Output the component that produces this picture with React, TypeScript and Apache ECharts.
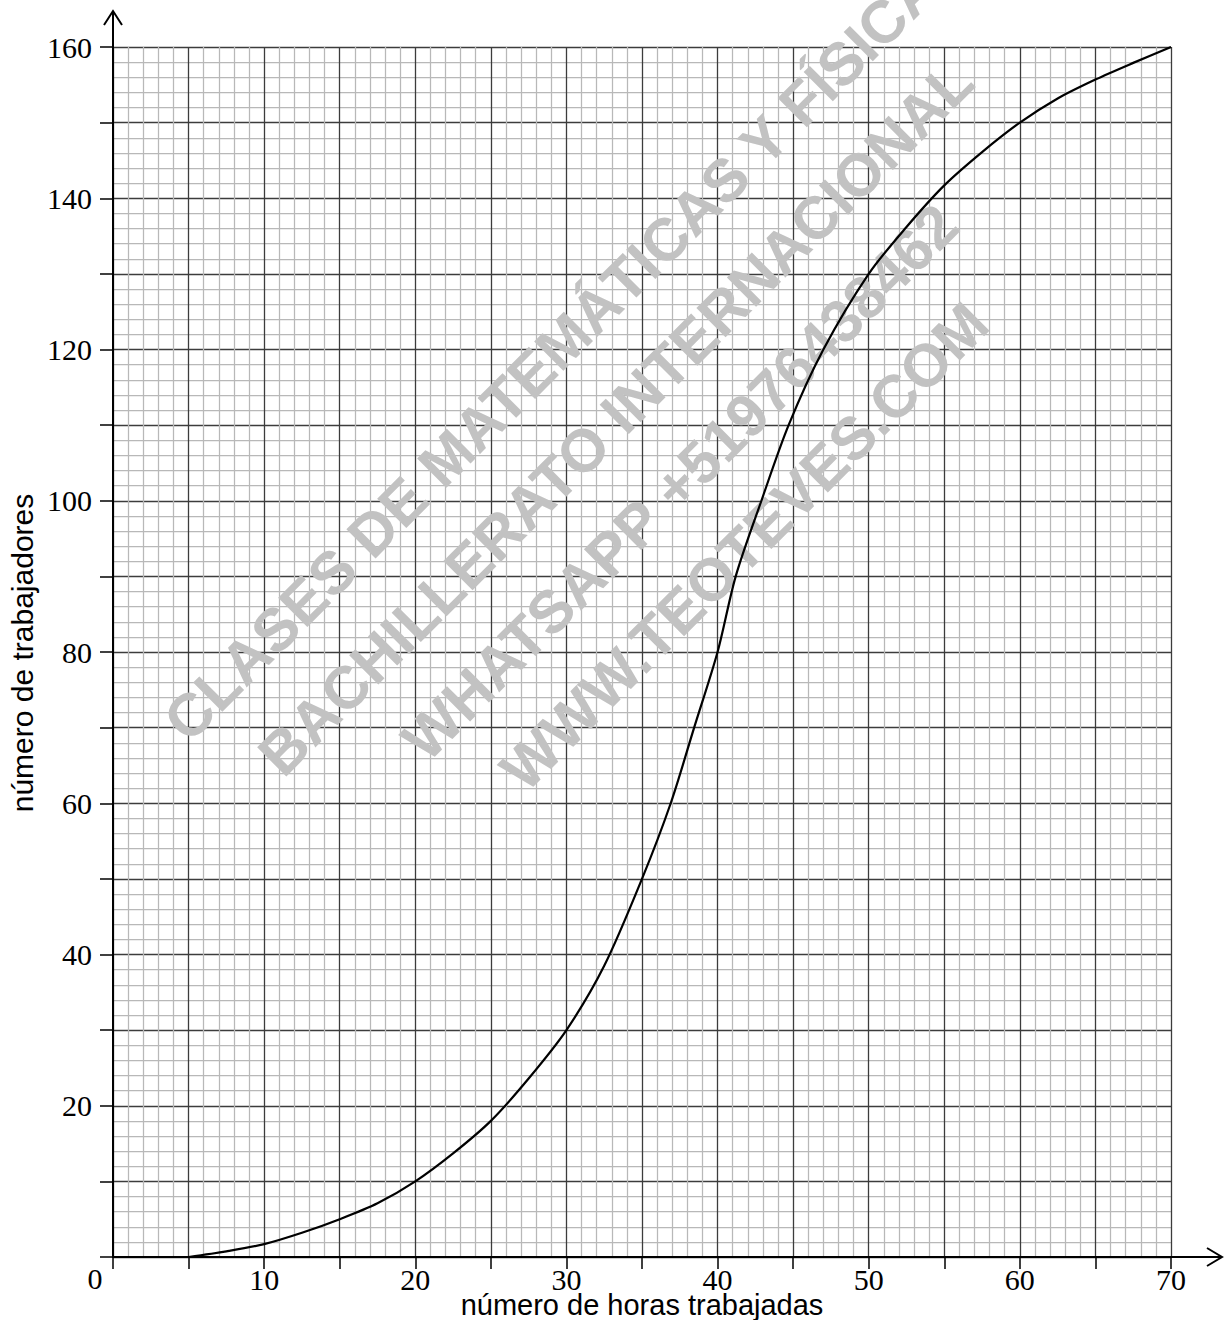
import React, { useEffect, useRef } from 'react';
import * as echarts from 'echarts';

// número de horas trabajadas (x) vs número de trabajadores (y), cumulative curve
const hours = [5, 7.5, 10, 12.5, 15, 17.5, 20, 22.5, 25, 27.5, 30, 32.5, 35, 36.9, 38.45, 40, 41.2, 42.9, 44.7, 47, 50, 52.5, 55, 57.5, 60, 62.5, 65, 67.5, 70];
const workers = [0, 0.75, 1.7, 3.2, 5, 7.1, 10, 13.7, 18, 23.6, 30, 38.5, 50, 60, 70, 80, 90, 100, 110, 120, 130, 136.2, 141.7, 146.1, 150, 153.2, 155.7, 157.9, 160];

const xLabelValues = [10, 20, 30, 40, 50, 60, 70];
const yLabelValues = [20, 40, 60, 80, 100, 120, 140, 160];

const xTitle = 'número de horas trabajadas';
const yTitle = 'número de trabajadores';

const watermarkLines = [
  'CLASES DE MATEMÁTICAS Y FÍSICA',
  'BACHILLERATO INTERNACIONAL',
  'WHATSAPP +51976438462',
  'WWW.TEOTEVES.COM',
];

const SERIF = '"Liberation Serif", "Times New Roman", serif';
const SANS = '"Liberation Sans", Arial, sans-serif';

export default function App() {
  const ref = useRef<HTMLDivElement>(null);

  useEffect(() => {
    const chart = echarts.init(ref.current as HTMLDivElement, null, { renderer: 'svg' });
    const minorLine = { show: true, lineStyle: { color: '#b8b8b8', width: 1.25 } };
    const majorLine = { show: true, lineStyle: { color: '#3c3c3c', width: 1.3 } };
    const option: any = {
      animation: false,
      backgroundColor: '#ffffff',
      grid: { left: 113, right: 54, top: 47, bottom: 63, containLabel: false },
      xAxis: {
        type: 'value',
        min: 0,
        max: 70,
        interval: 5,
        axisLine: { show: true, onZero: true, lineStyle: { color: '#000', width: 2 } },
        axisTick: { show: true, length: 12, lineStyle: { color: '#000', width: 1.5 } },
        axisLabel: {
          show: true,
          margin: 10,
          lineHeight: 24,
          color: '#000',
          fontFamily: SERIF,
          fontSize: 30,
          formatter: (v: number) => (xLabelValues.indexOf(v) >= 0 ? String(v) : ''),
        },
        splitLine: majorLine,
        minorTick: { show: false, splitNumber: 5 },
        minorSplitLine: minorLine,
      },
      yAxis: {
        type: 'value',
        min: 0,
        max: 160,
        interval: 10,
        axisLine: { show: true, onZero: true, lineStyle: { color: '#000', width: 2 } },
        axisTick: { show: true, length: 13, lineStyle: { color: '#000', width: 1.5 } },
        axisLabel: {
          show: true,
          margin: 21,
          color: '#000',
          fontFamily: SERIF,
          fontSize: 30,
          formatter: (v: number) => (yLabelValues.indexOf(v) >= 0 ? String(v) : ''),
        },
        splitLine: majorLine,
        minorTick: { show: false, splitNumber: 5 },
        minorSplitLine: minorLine,
      },
      series: [
        {
          type: 'line',
          data: hours.map((h, i) => [h, workers[i]]),
          smooth: 0.3,
          showSymbol: false,
          symbol: 'none',
          z: 5,
          lineStyle: { color: '#000', width: 2.2 },
        },
      ],
    };
    chart.setOption(option);

    const o = chart.convertToPixel({ gridIndex: 0 }, [0, 0]) as number[];
    const r = chart.convertToPixel({ gridIndex: 0 }, [70, 0]) as number[];
    const t = chart.convertToPixel({ gridIndex: 0 }, [0, 160]) as number[];

    const xTip = r[0] + 51;
    const yTip = t[1] - 36;

    // watermark block: centred lines rotated 45°
    const ang = Math.PI / 4;
    const along = 140;
    const perps = [640, 731, 822, 913];
    const c = Math.SQRT1_2;
    const wm = watermarkLines.map((txt, i) => ({
      type: 'text',
      x: c * (along + perps[i]),
      y: c * (perps[i] - along),
      rotation: ang,
      z: 1,
      silent: true,
      style: {
        text: txt,
        fill: '#c2c2c2',
        font: `bold 60px ${SANS}`,
        align: 'center',
        verticalAlign: 'middle',
      },
    }));

    chart.setOption({
      graphic: [
        ...wm,
        {
          type: 'line',
          z: 10,
          shape: { x1: r[0], y1: r[1], x2: xTip, y2: r[1] },
          style: { stroke: '#000', lineWidth: 2 },
        },
        {
          type: 'polyline',
          z: 10,
          shape: { points: [[xTip - 15, r[1] - 9], [xTip, r[1]], [xTip - 15, r[1] + 9]] },
          style: { stroke: '#000', lineWidth: 2, fill: 'none' },
        },
        {
          type: 'line',
          z: 10,
          shape: { x1: t[0], y1: t[1], x2: t[0], y2: yTip },
          style: { stroke: '#000', lineWidth: 2 },
        },
        {
          type: 'polyline',
          z: 10,
          shape: { points: [[t[0] - 9, yTip + 14], [t[0], yTip], [t[0] + 9, yTip + 14]] },
          style: { stroke: '#000', lineWidth: 2, fill: 'none' },
        },
        {
          type: 'text',
          x: o[0] - 18,
          y: o[1] + 21,
          z: 10,
          style: { text: '0', font: `30px ${SERIF}`, fill: '#000', align: 'center', verticalAlign: 'middle' },
        },
        {
          type: 'text',
          x: 642,
          y: o[1] + 48,
          z: 10,
          style: { text: xTitle, font: `29px ${SANS}`, lineHeight: 20, fill: '#000', align: 'center', verticalAlign: 'middle' },
        },
        {
          type: 'text',
          x: 22,
          y: 653,
          rotation: Math.PI / 2,
          z: 10,
          style: { text: yTitle, font: `30px ${SANS}`, fill: '#000', align: 'center', verticalAlign: 'middle' },
        },
      ],
    });

    return () => chart.dispose();
  }, []);

  return <div ref={ref} style={{ position: 'absolute', left: 0, top: 0, width: 1225, height: 1320 }} />;
}
